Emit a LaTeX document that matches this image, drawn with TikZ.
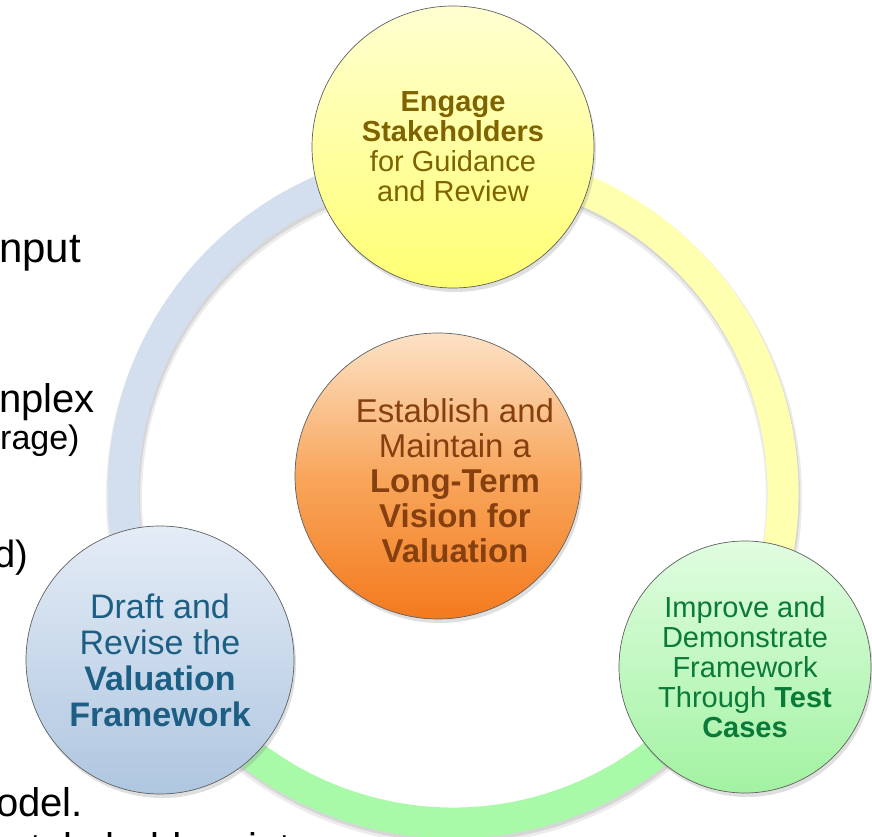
\documentclass[tikz,border=0pt]{standalone}
\usepackage{fontspec}
\setmainfont{Liberation Sans}
\usepackage{tikz}
\usetikzlibrary{calc, shadows}

\definecolor{ringblue}{HTML}{D3DFEE}
\definecolor{ringyellow}{HTML}{FFFFB0}
\definecolor{ringgreen}{HTML}{A8F9A8}
\definecolor{olivetext}{HTML}{7F6300}
\definecolor{browntext}{HTML}{86400F}
\definecolor{bluetext}{HTML}{1D5E84}
\definecolor{greentext}{HTML}{0B7A38}
\definecolor{bluetop}{HTML}{E4ECF6}
\definecolor{bluebottom}{HTML}{AFC6E0}
\definecolor{orangetop}{HTML}{FCE2C6}
\definecolor{orangemid}{HTML}{F8A65C}
\definecolor{orangebottom}{HTML}{F47A1E}
\definecolor{greentop}{HTML}{E0FDE0}
\definecolor{greenbottom}{HTML}{A2F2A2}

\begin{document}
\begin{tikzpicture}[x=1pt, y=1pt,
    bubble/.style={circle, draw=gray!75!black, line width=0.7pt, align=center, inner sep=0pt,
        drop shadow={opacity=0.25, shadow xshift=2pt, shadow yshift=-4pt}},
    ringarc/.style={line width=31pt},
    sidetext/.style={anchor=base west, inner sep=0pt, text=black}]
    \useasboundingbox (0,0) rectangle (872,837);
    \fill[white] (0,0) rectangle (872,837);
    \coordinate (O) at (453,344);
    % text of the slide behind the cycle
    \node[sidetext, font=\fontsize{42}{46}\selectfont] (input) at (-1,574) {nput};
    \node[sidetext, font=\fontsize{40}{44}\selectfont] (complex) at (-1,424) {nplex};
    \node[sidetext, font=\fontsize{34}{38}\selectfont] (leverage) at (0,387) {rage)};
    \node[sidetext, font=\fontsize{38}{42}\selectfont] (ended) at (-6,269) {d)};
    \node[sidetext, font=\fontsize{40}{44}\selectfont] (model) at (-4,20) {odel.};
    \node[sidetext, font=\fontsize{40}{44}\selectfont] (into) at (10,-25) {stakeholders into};
    % ring
    \draw[line width=36pt, gray, opacity=0.15] ($(O)+(1,-4)$) circle (330);
    \draw[line width=32pt, gray, opacity=0.2] ($(O)+(1,-3)$) circle (330);
    \draw[ringarc, ringblue] (O) ++(90:330) arc[start angle=90, end angle=210, radius=330];
    \draw[ringarc, ringyellow] (O) ++(-30:330) arc[start angle=-30, end angle=90, radius=330];
    \draw[ringarc, ringgreen] (O) ++(210:330) arc[start angle=210, end angle=330, radius=330];
    % circles
    \node[bubble, minimum size=282pt, top color=yellow!18, bottom color=yellow!55, text=olivetext,
        font=\fontsize{29}{30}\selectfont] (stakeholders) at (453,690)
        {\textbf{Engage}\\\textbf{Stakeholders}\\for Guidance\\and Review};
    \node[bubble, minimum size=286pt, top color=orangetop, bottom color=orangebottom, middle color=orangemid] (vision) at (438,361) {};
    \node[align=center, text=browntext, font=\fontsize{33}{35}\selectfont] (visiontext) at (455,356)
        {Establish and\\Maintain a\\\textbf{Long-Term}\\\textbf{Vision for}\\\textbf{Valuation}};
    \node[bubble, minimum size=268pt, top color=bluetop, bottom color=bluebottom, text=bluetext,
        font=\fontsize{34}{36}\selectfont] (draft) at (160,177)
        {Draft and\\Revise the\\\textbf{Valuation}\\\textbf{Framework}};
    \node[bubble, minimum size=252pt, top color=greentop, bottom color=greenbottom, text=greentext,
        font=\fontsize{29}{30}\selectfont] (testcases) at (745,170)
        {Improve and\\Demonstrate\\Framework\\Through \textbf{Test}\\\textbf{Cases}};
\end{tikzpicture}
\end{document}
